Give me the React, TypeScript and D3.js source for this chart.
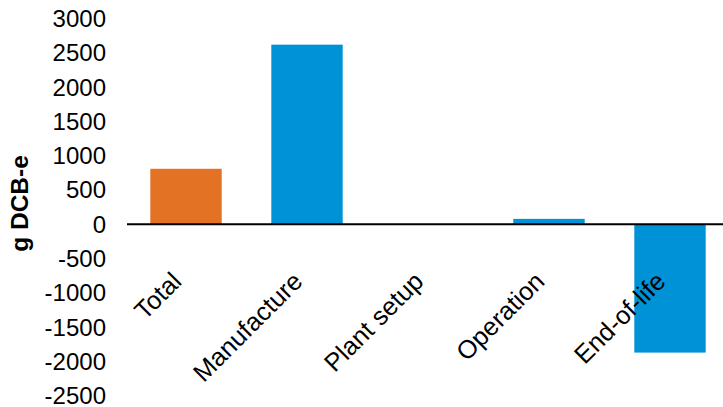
import React from "react";
import * as d3 from "d3";

const categories = ["Total", "Manufacture", "Plant setup", "Operation", "End-of-life"];
const values = [810, 2620, 2, 80, -1870];
const barColors = ["#E37224", "#0092D6", "#0092D6", "#0092D6", "#0092D6"];
const yTicks = [3000, 2500, 2000, 1500, 1000, 500, 0, -500, -1000, -1500, -2000, -2500];
const yTitle = "g DCB-e";

const W = 723;
const H = 407;

export default function App() {
  const y = d3.scaleLinear().domain([-2500, 3000]).range([395.8, 18.6]);
  const x = d3
    .scaleBand<string>()
    .domain(categories)
    .range([125.5, 730.5])
    .paddingInner(0.41)
    .paddingOuter(0.205);
  const font = "'Liberation Sans', Arial, sans-serif";
  const y0 = y(0);
  return (
    <svg
      width={W}
      height={H}
      style={{ position: "absolute", left: 0, top: 0, background: "#fff" }}
      fontFamily={font}
    >
      {categories.map((c, i) => {
        const v = values[i];
        const top = Math.min(y(v), y0);
        const h = Math.abs(y(v) - y0);
        return (
          <rect key={c} x={x(c)} y={top} width={x.bandwidth()} height={h} fill={barColors[i]} />
        );
      })}
      <line x1={127} x2={W} y1={y0} y2={y0} stroke="#000" strokeWidth={2} />
      {yTicks.map((t) => (
        <text
          key={t}
          x={106}
          y={y(t)}
          dy="0.35em"
          textAnchor="end"
          fontSize={24}
          fill="#000"
        >
          {t}
        </text>
      ))}
      <text
        transform={`translate(28,${203.5}) rotate(-90)`}
        textAnchor="middle"
        fontSize={24.5}
        fontWeight="bold"
        fill="#000"
      >
        {yTitle}
      </text>
      {categories.map((c) => {
        const cx = (x(c) as number) + x.bandwidth() / 2;
        return (
          <text
            key={"l" + c}
            transform={`translate(${cx - 3},${283}) rotate(-45)`}
            textAnchor="end"
            fontSize={25.5}
            fill="#000"
          >
            {c}
          </text>
        );
      })}
    </svg>
  );
}
